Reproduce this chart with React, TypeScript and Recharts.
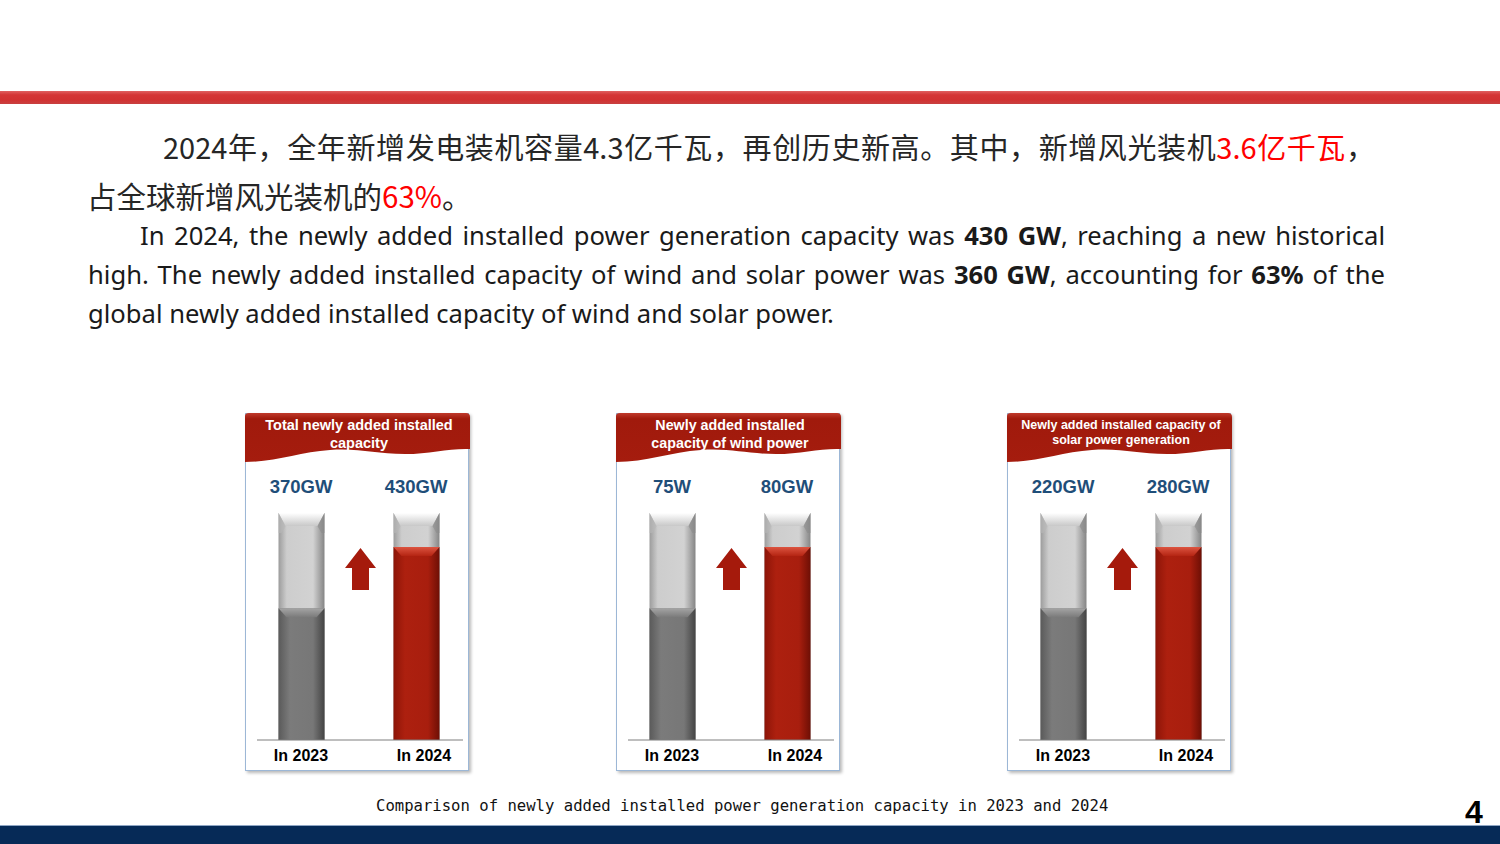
import React from "react";
import { BarChart, Bar, XAxis, YAxis } from "recharts";

// categories and labels
const categories = ["In 2023", "In 2024"];
const totalLabels = ["370GW", "430GW"];
const windLabels = ["75W", "80GW"];
const solarLabels = ["220GW", "280GW"];
// how far each tube is filled (% of tube height), as drawn in the picture
const fillLevels = [58, 85];

const panelTitles = [
  ["Total newly added installed", "capacity"],
  ["Newly added installed", "capacity of wind power"],
  ["Newly added installed capacity of", "solar power generation"],
];

const VALUE_BLUE = "#1f4e79";

function Tube(props: any) {
  const { x, y, width: w, height: h } = props;
  return (
    <g>
      <rect x={x} y={y} width={w} height={h} fill="url(#tubeGrad)" />
      <polygon points={`${x},${y} ${x + w},${y} ${x + w - 7},${y + 13} ${x + 7},${y + 13}`} fill="url(#capGrad)" />
      <polygon points={`${x},${y} ${x + 7},${y + 13} ${x + 3},${y + 20} ${x},${y + 20}`} fill="#b8b8b8" opacity={0.6} />
      <polygon points={`${x + w},${y} ${x + w - 7},${y + 13} ${x + w - 3},${y + 20} ${x + w},${y + 20}`} fill="#8a8a8a" opacity={0.6} />
    </g>
  );
}

function Fill(props: any) {
  const { x, y, width: w, height: h, payload } = props;
  const red = payload.year !== categories[0];
  const body = red ? "url(#redGrad)" : "url(#grayGrad)";
  const bevel = red ? "url(#redCap)" : "url(#grayCap)";
  return (
    <g>
      <rect x={x} y={y} width={w} height={h} fill={body} />
      <polygon points={`${x},${y} ${x + w},${y} ${x + w - 8},${y + 9} ${x + 8},${y + 9}`} fill={bevel} />
    </g>
  );
}

function Panel({ left, title, labels, titleSize }: { left: number; title: string[]; labels: string[]; titleSize: number }) {
  const data = categories.map((c, i) => ({ year: c, level: fillLevels[i] }));
  const ty = titleSize < 13.5 ? [11, 26] : [12, 30];
  return (
    <div
      style={{
        position: "absolute",
        left,
        top: 413,
        width: 224,
        height: 358,
        background: "#fff",
        border: "1px solid #9cb7d6",
        boxShadow: "2px 2px 3px rgba(0,0,0,0.28)",
        boxSizing: "border-box",
      }}
    >
      <div style={{ position: "absolute", left: -1, top: -1 }}>
        <BarChart width={224} height={358} data={data} margin={{ top: 70, right: 6, bottom: 0, left: 12 }} barSize={46}>
          <defs>
            <linearGradient id="tubeGrad" x1="0" y1="0" x2="1" y2="0">
              <stop offset="0" stopColor="#9c9c9c" />
              <stop offset="0.18" stopColor="#cdcdcd" />
              <stop offset="0.75" stopColor="#d2d2d2" />
              <stop offset="1" stopColor="#858585" />
            </linearGradient>
            <linearGradient id="capGrad" x1="0" y1="0" x2="0" y2="1">
              <stop offset="0" stopColor="#ffffff" />
              <stop offset="1" stopColor="#c8c8c8" />
            </linearGradient>
            <linearGradient id="grayGrad" x1="0" y1="0" x2="1" y2="0">
              <stop offset="0" stopColor="#5a5a5a" />
              <stop offset="0.25" stopColor="#7b7b7b" />
              <stop offset="0.75" stopColor="#777777" />
              <stop offset="1" stopColor="#444444" />
            </linearGradient>
            <linearGradient id="grayCap" x1="0" y1="0" x2="0" y2="1">
              <stop offset="0" stopColor="#a4a4a4" />
              <stop offset="1" stopColor="#7a7a7a" />
            </linearGradient>
            <linearGradient id="redGrad" x1="0" y1="0" x2="1" y2="0">
              <stop offset="0" stopColor="#8d1508" />
              <stop offset="0.25" stopColor="#ad200f" />
              <stop offset="0.75" stopColor="#a81e0e" />
              <stop offset="1" stopColor="#6e0f05" />
            </linearGradient>
            <linearGradient id="redCap" x1="0" y1="0" x2="0" y2="1">
              <stop offset="0" stopColor="#dc5440" />
              <stop offset="1" stopColor="#b42412" />
            </linearGradient>
          </defs>
          <XAxis
            xAxisId="top"
            orientation="top"
            dataKey="year"
            height={30}
            axisLine={false}
            tickLine={false}
            tickSize={0}
            tickMargin={0}
            padding={{ left: -13.5, right: -10.5 }}
            interval={0}
            tick={(p: any) => (
              <text x={p.x} y={p.y - 20} textAnchor="middle" fill={VALUE_BLUE} fontFamily="Liberation Sans, Arial" fontWeight="bold" fontSize={18.5}>
                {labels[p.index]}
              </text>
            )}
          />
          <XAxis
            dataKey="year"
            height={31}
            axisLine={{ stroke: "#7f7f7f" }}
            tickLine={false}
            tickSize={0}
            tickMargin={0}
            padding={{ left: -13.5, right: -10.5 }}
            interval={0}
            tick={(p: any) => (
              <text x={p.x + (p.index === 1 ? 8 : 0)} y={p.y + 21} textAnchor="middle" fill="#000" fontFamily="Liberation Sans, Arial" fontWeight="bold" fontSize={16}>
                {p.payload.value}
              </text>
            )}
          />
          <YAxis hide domain={[0, 100]} />
          <Bar dataKey="level" background={(p: any) => <Tube {...p} />} shape={(p: any) => <Fill {...p} />} isAnimationActive={false} />
        </BarChart>
      </div>
      <svg width={226} height={70} style={{ position: "absolute", left: -1, top: -1 }}>
        <defs>
          <linearGradient id={`hdr${left}`} x1="0" y1="0" x2="0" y2="1">
            <stop offset="0" stopColor="#c0392b" />
            <stop offset="0.12" stopColor="#a01a0c" />
            <stop offset="1" stopColor="#a51c0e" />
          </linearGradient>
        </defs>
        <path
          d="M0,3 Q0,0 4,0 H221 Q225,0 225,4 V36 C205,35 185,41 160,41 C130,41 115,35 85,37 C55,39 30,49 0,49 Z"
          fill={`url(#hdr${left})`}
        />
        <g fill="#fff" fontFamily="Liberation Sans, Arial" fontWeight="bold" fontSize={titleSize} textAnchor="middle">
          <text x={114} y={ty[0] + titleSize * 0.36}>{title[0]}</text>
          <text x={114} y={ty[1] + titleSize * 0.36}>{title[1]}</text>
        </g>
      </svg>
      <svg width={40} height={50} style={{ position: "absolute", left: 94, top: 129 }}>
        <polygon points="5,25 20.5,5 36,25 29,25 29,47 12,47 12,25" fill="#a51a0c" />
      </svg>
    </div>
  );
}

export default function App() {
  return (
    <div style={{ position: "absolute", left: 0, top: 0, width: 1500, height: 844, background: "#fff", overflow: "hidden" }}>
      <div style={{ position: "absolute", left: 0, top: 91, width: 1500, height: 13, background: "linear-gradient(#e06060, #d43535 30%, #d13232 70%, #c84040)" }} />

      <div style={{ position: "absolute", left: 163, top: 126, width: 1212, fontFamily: "Noto Sans CJK SC", fontSize: 29, lineHeight: "40px", color: "#262626", textAlign: "justify", textAlignLast: "justify" }}>
        2024年，全年新增发电装机容量4.3亿千瓦，再创历史新高。其中，新增风光装机<span style={{ color: "#ff0000" }}>3.6亿千瓦</span>，
      </div>
      <div style={{ position: "absolute", left: 87, top: 175, fontFamily: "Noto Sans CJK SC", fontSize: 29.5, lineHeight: "40px", color: "#262626", whiteSpace: "nowrap" }}>
        占全球新增风光装机的<span style={{ color: "#ff0000" }}>63%</span>。
      </div>

      <div style={{ position: "absolute", left: 88, top: 216, width: 1297, fontFamily: "Noto Sans", fontSize: 25.6, lineHeight: "39px", color: "#1a1a1a" }}>
        <div style={{ paddingLeft: 52, textAlign: "justify", textAlignLast: "justify" }}>
          In 2024, the newly added installed power generation capacity was <b>430 GW</b>, reaching a new historical
        </div>
        <div style={{ textAlign: "justify", textAlignLast: "justify" }}>
          high. The newly added installed capacity of wind and solar power was <b>360 GW</b>, accounting for <b>63%</b> of the
        </div>
        <div>global newly added installed capacity of wind and solar power.</div>
      </div>

      <Panel left={245} title={panelTitles[0]} labels={totalLabels} titleSize={14.5} />
      <Panel left={616} title={panelTitles[1]} labels={windLabels} titleSize={14.3} />
      <Panel left={1007} title={panelTitles[2]} labels={solarLabels} titleSize={12.5} />

      <div style={{ position: "absolute", left: 376, top: 796, width: 732, fontFamily: "DejaVu Sans Mono", fontSize: 15.6, lineHeight: "20px", color: "#111", whiteSpace: "nowrap" }}>
        Comparison of newly added installed power generation capacity in 2023 and 2024
      </div>
      <div style={{ position: "absolute", left: 1465, top: 795, fontFamily: "Liberation Sans, Arial", fontWeight: "bold", fontSize: 32, lineHeight: "34px", color: "#000" }}>4</div>
      <div style={{ position: "absolute", left: 0, top: 825, width: 1500, height: 1, background: "#8fa6c4" }} />
      <div style={{ position: "absolute", left: 0, top: 826, width: 1500, height: 18, background: "#062a57" }} />
    </div>
  );
}
